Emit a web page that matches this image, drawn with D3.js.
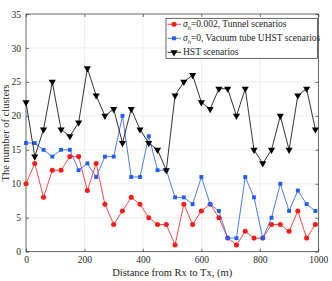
<!DOCTYPE html>
<html>
<head>
<meta charset="utf-8">
<script src="https://cdn.jsdelivr.net/npm/d3@7"></script>
<style>
  body { margin: 0; background: #fff; }
  svg text { font-family: "Liberation Serif", "Times New Roman", serif; fill: #262626; }
</style>
</head>
<body>
<svg id="chart" width="332" height="281"></svg>
<script>
// distance from Rx to Tx (m)
const distances = [0, 30, 60, 90, 120, 150, 180, 210, 240, 270, 300, 330, 360, 390, 420, 450, 480,
    510, 540, 570, 600, 630, 660, 690, 720, 750, 780, 810, 840, 870, 900, 930, 960, 990];

// tunnel, sigma_h = 0.002
const tunnel = [10, 13, 8, 12, 12, 14, 14, 9, 13, 7, 4, 6, 8, 7, 5, 4, 4,
    1, 7, 4, 6, 7, 5, 2, 1, 3, 2, 2, 4, 4, 3, 6, 2, 4];

// vacuum tube UHST, sigma_h = 0
const vacuum = [16, 16, 15, 14, 15, 15, 12, 13, 11, 14, 14, 20, 11, 11, 17, 12, 12,
    8, 8, 7, 11, 7, 6, 2, 2, 11, 8, 2, 5, 10, 6, 9, 7, 6];

// HST
const hst = [22, 14, 18, 25, 18, 17, 19, 27, 23, 20, 21, 16, 21, 18, 16, 15, 12,
    23, 25, 26, 22, 21, 24, 24, 20, 24, 15, 13, 15, 20, 15, 23, 24, 18];

const xTicks = [0, 200, 400, 600, 800, 1000];
const yTicks = [0, 5, 10, 15, 20, 25, 30, 35];

const legendLabels = ["=0.002, Tunnel scenarios", "=0, Vacuum tube UHST scenarios", "HST scenarios"];

const svg = d3.select("#chart");

const plotLeft = 26, plotRight = 318.3, plotTop = 14, plotBottom = 251.7;

const x = d3.scaleLinear().domain([0, 1000]).range([plotLeft, plotRight]);
const y = d3.scaleLinear().domain([0, 35]).range([plotBottom, plotTop]);

// grille
const grid = svg.append("g");
grid.selectAll(".gx").data(xTicks.slice(1, -1)).enter().append("line")
    .attr("x1", d => x(d)).attr("x2", d => x(d))
    .attr("y1", plotTop).attr("y2", plotBottom)
    .attr("stroke", "#e6e6e6").attr("stroke-width", 0.7);
grid.selectAll(".gy").data(yTicks.slice(1, -1)).enter().append("line")
    .attr("x1", plotLeft).attr("x2", plotRight)
    .attr("y1", d => y(d)).attr("y2", d => y(d))
    .attr("stroke", "#e6e6e6").attr("stroke-width", 0.7);

// axes (ticks vers l'intérieur, sur les 4 côtés)
const tickLen = 3;
const axisStyle = g => {
    g.select(".domain").remove();
    g.selectAll(".tick line").attr("stroke", "#262626").attr("stroke-width", 0.6);
    g.selectAll(".tick text").attr("font-size", "9.5px")
        .attr("font-family", "Liberation Serif, serif").attr("fill", "#262626");
};

svg.append("g").attr("transform", `translate(0,${plotBottom})`)
    .call(d3.axisBottom(x).tickValues(xTicks).tickSize(-tickLen).tickPadding(5).tickFormat(d3.format("d")))
    .call(axisStyle);
svg.append("g").attr("transform", `translate(0,${plotTop})`)
    .call(d3.axisTop(x).tickValues(xTicks).tickSize(-tickLen).tickFormat(""))
    .call(axisStyle);
svg.append("g").attr("transform", `translate(${plotLeft},0)`)
    .call(d3.axisLeft(y).tickValues(yTicks).tickSize(-tickLen).tickPadding(5))
    .call(axisStyle);
svg.append("g").attr("transform", `translate(${plotRight},0)`)
    .call(d3.axisRight(y).tickValues(yTicks).tickSize(-tickLen).tickFormat(""))
    .call(axisStyle);

svg.append("rect")
    .attr("x", plotLeft).attr("y", plotTop)
    .attr("width", plotRight - plotLeft).attr("height", plotBottom - plotTop)
    .attr("fill", "none").attr("stroke", "#262626").attr("stroke-width", 0.7);

// séries
const series = [
    {values: tunnel, color: "#ff1a1a", symbol: d3.symbolCircle, size: 20, rotate: 0},
    {values: vacuum, color: "#1f5cff", symbol: d3.symbolSquare, size: 15, rotate: 0},
    {values: hst, color: "#000000", symbol: d3.symbolTriangle, size: 22, rotate: 180}
];

const line = d3.line().x(d => x(d[0])).y(d => y(d[1]));

series.forEach(s => {
    const pts = distances.map((d, i) => [d, s.values[i]]);
    svg.append("path")
        .attr("d", line(pts))
        .attr("fill", "none")
        .attr("stroke", s.color)
        .attr("stroke-width", 0.8);
    svg.append("g").selectAll("path")
        .data(pts)
        .enter()
        .append("path")
        .attr("d", d3.symbol().type(s.symbol).size(s.size))
        .attr("transform", d => `translate(${x(d[0])},${y(d[1])}) rotate(${s.rotate})`)
        .attr("fill", s.color);
});

// légende
const lg = svg.append("g").attr("transform", "translate(166,18.3)");
lg.append("rect")
    .attr("width", 151.5).attr("height", 40)
    .attr("fill", "#fff").attr("stroke", "#262626").attr("stroke-width", 0.7);

series.forEach((s, i) => {
    const cy = 6 + i * 14;
    lg.append("line")
        .attr("x1", 1.5).attr("x2", 15)
        .attr("y1", cy).attr("y2", cy)
        .attr("stroke", s.color).attr("stroke-width", 0.8);
    lg.append("path")
        .attr("d", d3.symbol().type(s.symbol).size(s.size))
        .attr("transform", `translate(8,${cy}) rotate(${s.rotate})`)
        .attr("fill", s.color);
    const t = lg.append("text")
        .attr("x", 17).attr("y", cy + 3.2)
        .attr("font-size", "9.5px");
    if (i < 2) {
        t.append("tspan").attr("font-style", "italic").text("σ");
        t.append("tspan").attr("font-style", "italic").attr("font-size", "6.5px")
            .attr("dy", 2.5).text("h");
        t.append("tspan").attr("dy", -2.5).text(legendLabels[i]);
    } else {
        t.text(legendLabels[i]);
    }
});

// titres des axes
svg.append("text")
    .attr("x", (plotLeft + plotRight) / 2).attr("y", 276)
    .attr("text-anchor", "middle")
    .attr("font-size", "10.5px")
    .text("Distance from Rx to Tx, (m)");

svg.append("text")
    .attr("transform", `translate(9,${(plotTop + plotBottom) / 2}) rotate(-90)`)
    .attr("text-anchor", "middle")
    .attr("font-size", "10.5px")
    .text("The number of clusters");
</script>
</body>
</html>
